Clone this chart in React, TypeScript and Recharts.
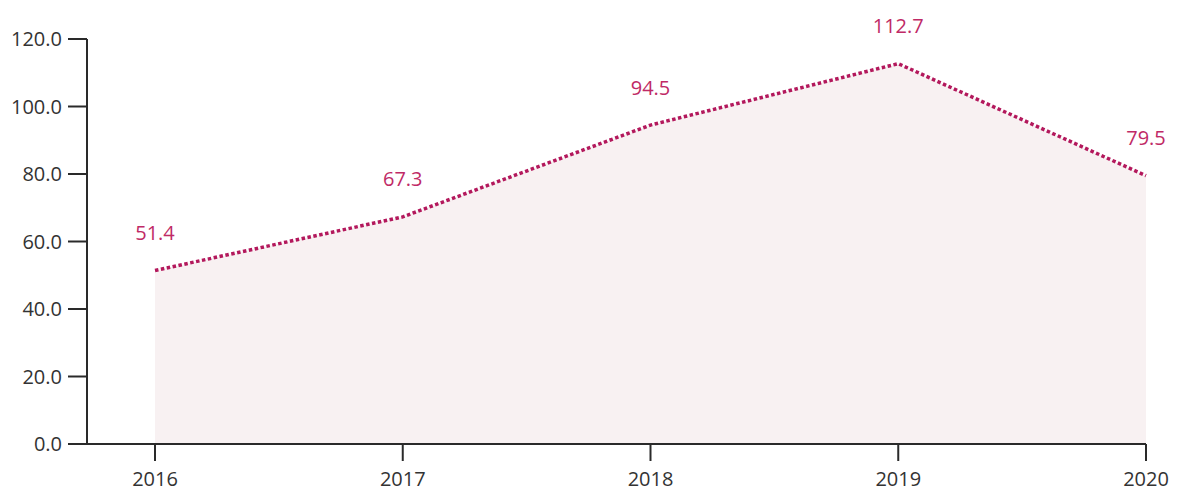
import React from 'react';
import { AreaChart, Area, XAxis, YAxis, LabelList } from 'recharts';

const years = ['2016', '2017', '2018', '2019', '2020'];
const values = [51.4, 67.3, 94.5, 112.7, 79.5];
const yTicks = [0, 20, 40, 60, 80, 100, 120];

const data = years.map((year, i) => ({ year, value: values[i] }));

const FONT = '"Open Sans", "Noto Sans", sans-serif';
const AXIS = '#2a2a2a';
const LINE = '#b3185c';
const LABEL = '#c02a66';
const FILL = '#f8f1f2';

const renderLabel = (props: any) => {
  const { x, y, value } = props;
  return (
    <text
      x={x}
      y={y - 38}
      textAnchor="middle"
      dominantBaseline="central"
      fill={LABEL}
      fontSize={20}
      fontFamily={FONT}
    >
      {Number(value).toFixed(1)}
    </text>
  );
};

export default function App() {
  return (
    <div style={{ position: 'absolute', left: 0, top: 0, width: 1180, height: 493, background: '#fff' }}>
      <AreaChart
        width={1180}
        height={493}
        data={data}
        margin={{ top: 39, right: 34, bottom: 0, left: 0 }}
      >
        <XAxis
          dataKey="year"
          padding={{ left: 68, right: 0 }}
          height={49}
          axisLine={{ stroke: AXIS, strokeWidth: 2 }}
          tickLine={{ stroke: AXIS, strokeWidth: 2 }}
          tickSize={17}
          tickMargin={11}
          tick={{ fill: '#333', fontSize: 20, fontFamily: FONT }}
        />
        <YAxis
          domain={[0, 120]}
          ticks={yTicks}
          width={87}
          axisLine={{ stroke: AXIS, strokeWidth: 2 }}
          tickLine={{ stroke: AXIS, strokeWidth: 2 }}
          tickSize={19}
          tickMargin={6}
          tickFormatter={(v: number) => v.toFixed(1)}
          tick={{ fill: '#333', fontSize: 20, fontFamily: FONT }}
          interval={0}
        />
        <Area
          type="linear"
          dataKey="value"
          stroke={LINE}
          strokeWidth={3.5}
          strokeDasharray="3.5 2.5"
          fill={FILL}
          fillOpacity={1}
          isAnimationActive={false}
          dot={false}
          activeDot={false}
        >
          <LabelList dataKey="value" content={renderLabel} />
        </Area>
      </AreaChart>
    </div>
  );
}
